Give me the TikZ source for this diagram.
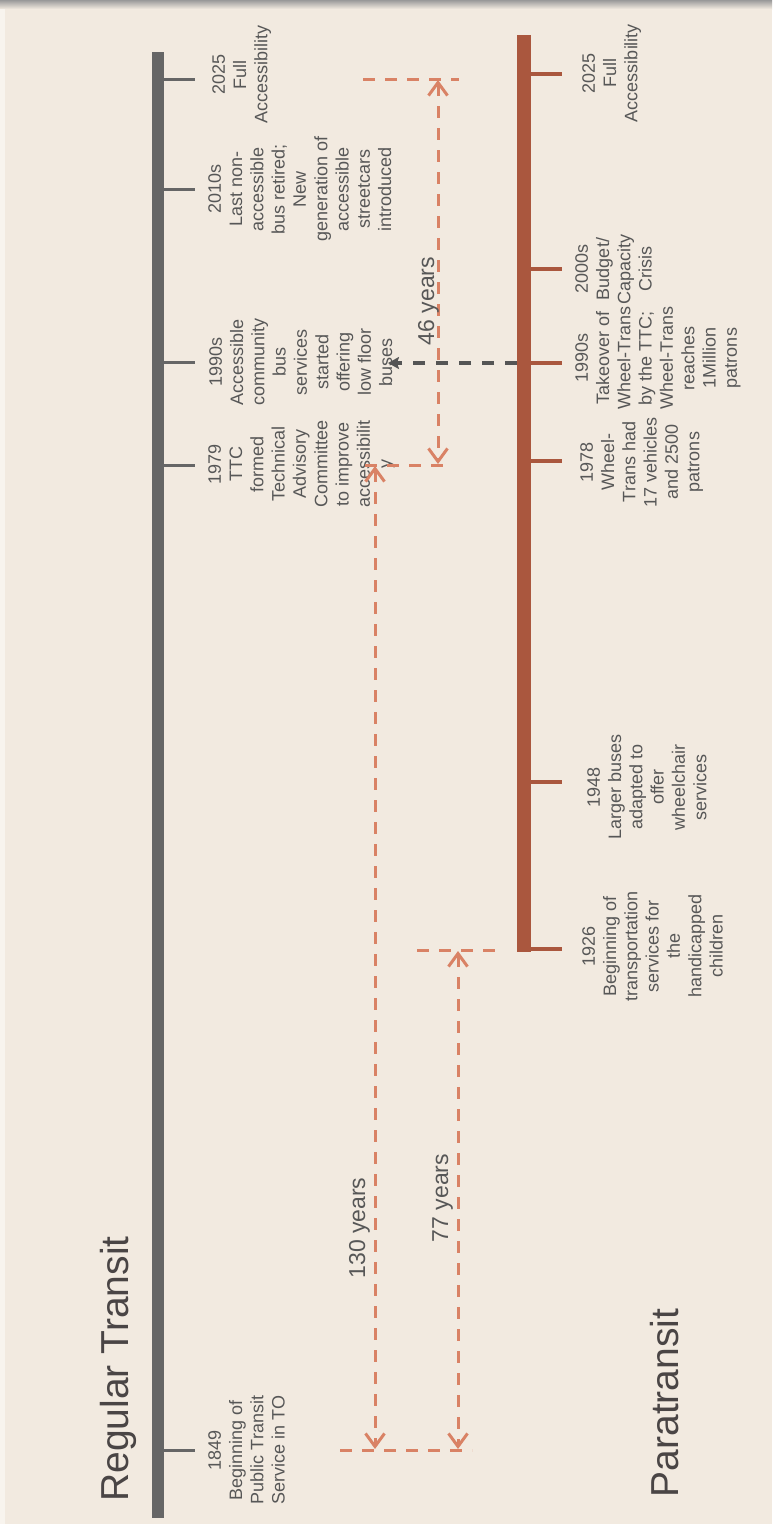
\documentclass[tikz,border=0pt]{standalone}
\usepackage{fontspec}
\setmainfont{Liberation Sans}
\usetikzlibrary{arrows.meta}

\definecolor{bg}{HTML}{F2EAE0}
\definecolor{regbar}{HTML}{666666}
\definecolor{parabar}{HTML}{AA573E}
\definecolor{spanline}{HTML}{D98265}
\definecolor{labeltext}{HTML}{575757}
\definecolor{titletext}{HTML}{4A4545}
\definecolor{linkgray}{HTML}{555555}

\begin{document}
\begin{tikzpicture}[x=1pt,y=-1pt,
  evlabel/.style={rotate=90, anchor=north, align=center, inner sep=0pt,
    text=labeltext, font=\fontsize{18}{21.3}\selectfont},
  titletxt/.style={rotate=90, anchor=base, inner sep=0pt, text=titletext,
    font=\fontsize{39}{44}\selectfont},
  spantxt/.style={rotate=90, anchor=base, inner sep=0pt, text=labeltext,
    font=\fontsize{23}{26}\selectfont},
  bar/.style={inner sep=0pt, outer sep=0pt, draw=none},
  regtick/.style={draw=regbar, line width=3pt},
  paratick/.style={draw=parabar, line width=3.5pt},
  spanln/.style={draw=spanline, line width=3pt, dash pattern=on 12pt off 10pt},
  barb/.tip={Straight Barb[length=13pt,width=19pt,line width=3pt]},
  spanarr/.style={spanln, barb-barb},
  linkarr/.style={draw=linkgray, line width=3.5pt, dash pattern=on 12pt off 11pt,
    -{Stealth[length=11pt,width=12pt,inset=2pt]}}
]
\useasboundingbox (0,0) rectangle (772,1524);

% page background with a soft shadow along the top edge
\fill[bg] (0,0) rectangle (772,1524);
\shade[top color=black!40, bottom color=bg] (0,0) rectangle (772,9);
\fill[white!45!bg] (0,9) rectangle (5,1524);

% ---------------- Regular transit timeline ----------------
\node[bar, fill=regbar, minimum width=12pt, minimum height=1466pt] (regline) at (158,785) {};

\coordinate (rt2025) at (195,79);
\coordinate (rt2010) at (195,189);
\coordinate (rt1990) at (195,362);
\coordinate (rt1979) at (195,465);
\coordinate (rt1849) at (195,1450);
\foreach \t in {rt2025,rt2010,rt1990,rt1979,rt1849}
  \draw[regtick] (\t -| regline.east) -- (\t);

\node[evlabel] (r2025) at (212,74.5) {2025\\Full\\Accessibility};
\node[evlabel] (r2010) at (208,189) {2010s\\Last non-\\accessible\\bus retired;\\New\\generation of\\accessible\\streetcars\\introduced};
\node[evlabel] (r1990) at (209,362) {1990s\\Accessible\\community\\bus\\services\\started\\offering\\low floor\\buses};
\node[evlabel] (r1979) at (208,464) {1979\\TTC\\formed\\Technical\\Advisory\\Committee\\to improve\\accessibilit\\y};
\node[evlabel] (r1849) at (208,1450) {1849\\Beginning of\\Public Transit\\Service in TO};

\node[titletxt] (tregular) at (128,1369) {Regular Transit};

% ---------------- Paratransit timeline ----------------
\node[bar, fill=parabar, minimum width=14pt, minimum height=917pt] (paraline) at (524,493.5) {};

\coordinate (pt2025) at (562,74);
\coordinate (pt2000) at (562,269);
\coordinate (pt1990) at (562,363);
\coordinate (pt1978) at (562,461);
\coordinate (pt1948) at (562,782);
\coordinate (pt1926) at (562,949);
\foreach \t in {pt2025,pt2000,pt1990,pt1978,pt1948,pt1926}
  \draw[paratick] (\t -| paraline.east) -- (\t);

\node[evlabel] (p2025) at (582,73) {2025\\Full\\Accessibility};
\node[evlabel] (p2000) at (575,269) {2000s\\Budget/\\Capacity\\Crisis};
\node[evlabel] (p1990) at (575,358) {1990s\\Takeover of\\Wheel-Trans\\by the TTC;\\Wheel-Trans\\reaches\\1Million\\patrons};
\node[evlabel] (p1978) at (580,462) {1978\\Wheel-\\Trans had\\17 vehicles\\and 2500\\patrons};
\node[evlabel] (p1948) at (587,787) {1948\\Larger buses\\adapted to\\offer\\wheelchair\\services};
\node[evlabel] (p1926) at (582,946) {1926\\Beginning of\\transportation\\services for\\the\\handicapped\\children};

\node[titletxt] (tpara) at (678,1403) {Paratransit};

% ---------------- Time spans ----------------
% 1979 -> 2025 (46 years)
\coordinate (g2025a) at (363,79);  \coordinate (g2025b) at (459,79);
\coordinate (g1979a) at (365,465); \coordinate (g1979b) at (446,465);
\draw[spanln] (g2025a) -- (g2025b);
\draw[spanln] (g1979a) -- (g1979b);
\coordinate (s46top) at (438,80);
\coordinate (s46bot) at (438,464);
\draw[spanarr] (s46top) -- (s46bot);
\node[spantxt] (s46) at (434,301) {46 years};

% 1849 -> 1979 (130 years) and 1849 -> 1926 (77 years)
\coordinate (g1849a) at (340,1450); \coordinate (g1849b) at (472,1450);
\coordinate (g1926a) at (417,950);  \coordinate (g1926b) at (500,950);
\draw[spanln] (g1849a) -- (g1849b);
\draw[spanln] (g1926a) -- (g1926b);
\coordinate (s130top) at (375,466);
\coordinate (s130bot) at (375,1449);
\draw[spanarr] (s130top) -- (s130bot);
\node[spantxt] (s130) at (365,1228) {130 years};
\coordinate (s77top) at (458,951);
\coordinate (s77bot) at (458,1449);
\draw[spanarr] (s77top) -- (s77bot);
\node[spantxt] (s77) at (448,1198) {77 years};

% Wheel-Trans takeover linked back to the regular 1990s services
\coordinate (linktip) at (388,363);
\draw[linkarr] (pt1990 -| paraline.west) -- (linktip);

\end{tikzpicture}
\end{document}
